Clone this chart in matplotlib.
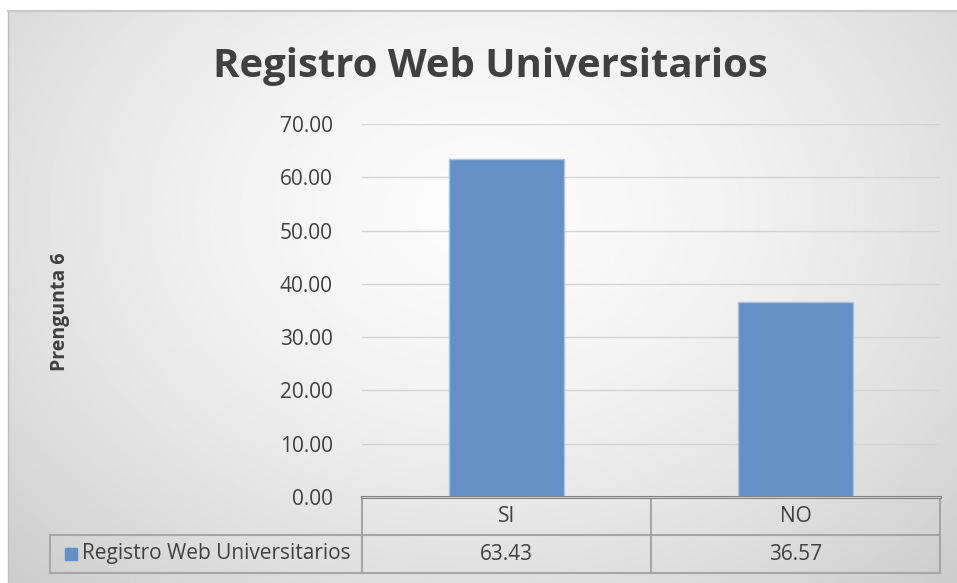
import numpy as np
import matplotlib.pyplot as plt
from matplotlib.patches import Rectangle

#%% Data

categories = ["SI", "NO"]
values = [63.43, 36.57]
series_name = "Registro Web Universitarios"
y_ticks = [0, 10, 20, 30, 40, 50, 60, 70]

#%% Figure

plt.rcParams["font.family"] = ["Open Sans", "DejaVu Sans"]
W, H = 957, 583
fig = plt.figure(figsize=(W / 100, H / 100), dpi=100)
fig.patch.set_facecolor("white")

# radial gradient background of the chart area
bg = fig.add_axes([8 / W, 0, (W - 8) / W, (H - 11) / H])
yy, xx = np.mgrid[0:1:300j, 0:1:500j]
r = np.sqrt(((xx - 0.5) / 0.75) ** 2 + ((yy - 0.35) / 0.95) ** 2)
shade = 0.985 - 0.2 * np.clip(r, 0, 1.2) ** 1.6
bg.imshow(shade, cmap="gray", vmin=0, vmax=1, aspect="auto",
          extent=[0, 1, 1, 0], interpolation="bilinear")
bg.set_axis_off()
fig.add_artist(plt.Line2D([8 / W, 8 / W], [0, (H - 11) / H], color="#bdbdbd", lw=1))
fig.add_artist(plt.Line2D([8 / W, 1], [(H - 11) / H, (H - 11) / H], color="#c8c8c8", lw=1.5))

# plot area
x0, x1, ytop, ybot = 362, 940, 124, 497
ax = fig.add_axes([x0 / W, (H - ybot) / H, (x1 - x0) / W, (ybot - ytop) / H])
ax.set_facecolor("none")
x = np.arange(len(categories))
ax.bar(x, values, width=0.4, color="#6590c5", edgecolor="#a9c3e3", linewidth=1, zorder=3)
ax.set_xlim(-0.5, len(categories) - 0.5)
ax.set_ylim(0, 70)
ax.set_yticks(y_ticks)
ax.set_yticklabels([f"{t:.2f}" for t in y_ticks], fontsize=15, color="#404040")
ax.tick_params(axis="y", length=0, pad=21)
ax.set_xticks([])
ax.grid(axis="y", color="#d4d4d4", lw=1, zorder=0)
for s in ax.spines.values():
    s.set_visible(False)
ax.axhline(0, color="#7f7f7f", lw=2.2, zorder=4, clip_on=False)
ax.axhline(0, color="#e0e0e0", lw=0.6, zorder=5, clip_on=False)

fig.text(60 / W, 1 - 312 / H, "Prengunta 6", fontsize=14, fontweight="bold",
         color="#404040", rotation=90, ha="center", va="center")
fig.text(490 / W, 1 - 67 / H, "Registro Web Universitarios", fontsize=28.9,
         fontweight="bold", color="#404040", ha="center", va="center")

# data table under the axis
row_h = 38 / (ybot - ytop)
leg_left = (50 - x0) / (x1 - x0)
tr = ax.transAxes
lc = "#a6a6a6"
def line(xs, ys):
    ax.plot(xs, ys, transform=tr, color=lc, lw=1.5, clip_on=False, zorder=2)

ncat = len(categories)
for i in range(ncat + 1):
    line([i / ncat, i / ncat], [0, -2 * row_h])
line([0, 1], [-row_h, -row_h])
line([leg_left, 1], [-2 * row_h, -2 * row_h])
line([leg_left, 0], [-row_h, -row_h])
line([leg_left, leg_left], [-row_h, -2 * row_h])

for i, (c, v) in enumerate(zip(categories, values)):
    ax.text((i + 0.5) / ncat, -0.5 * row_h, c, transform=tr, ha="center", va="center",
            fontsize=15, color="#404040")
    ax.text((i + 0.5) / ncat, -1.5 * row_h, f"{v:.2f}", transform=tr, ha="center",
            va="center", fontsize=15, color="#404040")

key_w = 12 / (x1 - x0)
key_h = 12 / (ybot - ytop)
ax.add_patch(Rectangle(((65 - x0) / (x1 - x0), -1.5 * row_h - key_h / 2), key_w, key_h,
                       transform=tr, color="#6590c5", clip_on=False))
ax.text((82 - x0) / (x1 - x0), -1.5 * row_h, series_name, transform=tr, ha="left",
        va="center", fontsize=15, color="#404040")

fig.savefig("out.png", dpi=100)
